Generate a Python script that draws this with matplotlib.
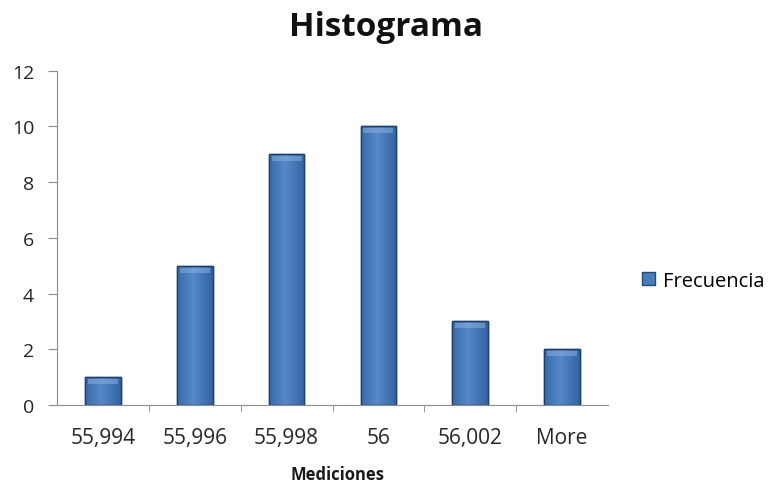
import matplotlib.pyplot as plt
import numpy as np
from matplotlib.patches import Rectangle

plt.rcParams['font.family'] = ['Open Sans', 'DejaVu Sans']

categorias = ['55,994', '55,996', '55,998', '56', '56,002', 'More']
frecuencia = [1, 5, 9, 10, 3, 2]

fig = plt.figure(figsize=(7.68, 4.85), dpi=100)
ax = fig.add_axes([0.0742, 0.163, 0.7175, 0.689])

x = np.arange(len(categorias))
ancho = 0.39
barras = ax.bar(x, frecuencia, width=ancho, color='#4a7ebb', edgecolor='#244a7a',
                linewidth=1.0, zorder=2, label='Frecuencia')

# horizontal shading on each bar, lighter in the middle
grad = np.linspace(0, 1, 64)
shade = 1 - np.abs(grad - 0.45) * 1.6
cmap = plt.matplotlib.colors.LinearSegmentedColormap.from_list(
    'azul', ['#2f5e9a', '#5589c9'])
for b in barras:
    x0, y0 = b.get_x(), b.get_y()
    w, h = b.get_width(), b.get_height()
    im = ax.imshow(shade[np.newaxis, :], cmap=cmap, aspect='auto',
                   extent=[x0, x0 + w, y0, y0 + h], zorder=2.5, vmin=0, vmax=1)
    im.set_clip_path(b)
    ax.add_patch(Rectangle((x0, y0), w, h, fill=False, edgecolor='#1f3f6a',
                           linewidth=1.0, zorder=3))
    # light bevel on top
    ax.add_patch(Rectangle((x0 + w * 0.08, y0 + h - 0.25), w * 0.84, 0.18,
                           color='#8fb4e3', alpha=0.5, zorder=3, linewidth=0))

ax.set_xlim(-0.5, len(categorias) - 0.5)
ax.set_ylim(0, 12)
ax.set_yticks(range(0, 13, 2))
ax.set_xticks(x)
ax.set_xticklabels(categorias)
ax.set_xticks(np.arange(0.5, len(categorias) - 0.5, 1), minor=True)

for s in ['top', 'right']:
    ax.spines[s].set_visible(False)
for s in ['left', 'bottom']:
    ax.spines[s].set_color('#8c8c8c')

ax.tick_params(axis='y', which='major', length=6.5, color='#8c8c8c', labelsize=14,
               labelcolor='#262626', pad=10)
ax.tick_params(axis='x', which='major', length=0, labelsize=15,
               labelcolor='#262626', pad=16)
ax.tick_params(axis='x', which='minor', length=5, color='#8c8c8c', direction='out')

fig.text(338 / 768, 1 - 475 / 485, 'Mediciones', fontsize=12, fontweight='bold',
         ha='center', va='center', color='#1a1a1a')
fig.text(0.502, 1 - 27 / 485, 'Histograma', fontsize=24, fontweight='bold',
         ha='center', va='center', color='#111111')

ax.legend(loc='center left', bbox_to_anchor=(1.061, 0.372), frameon=False,
          fontsize=14.5, handlelength=0.65, handleheight=0.65, handletextpad=0.4,
          borderaxespad=0, borderpad=0)

fig.savefig('out.png', dpi=100)
